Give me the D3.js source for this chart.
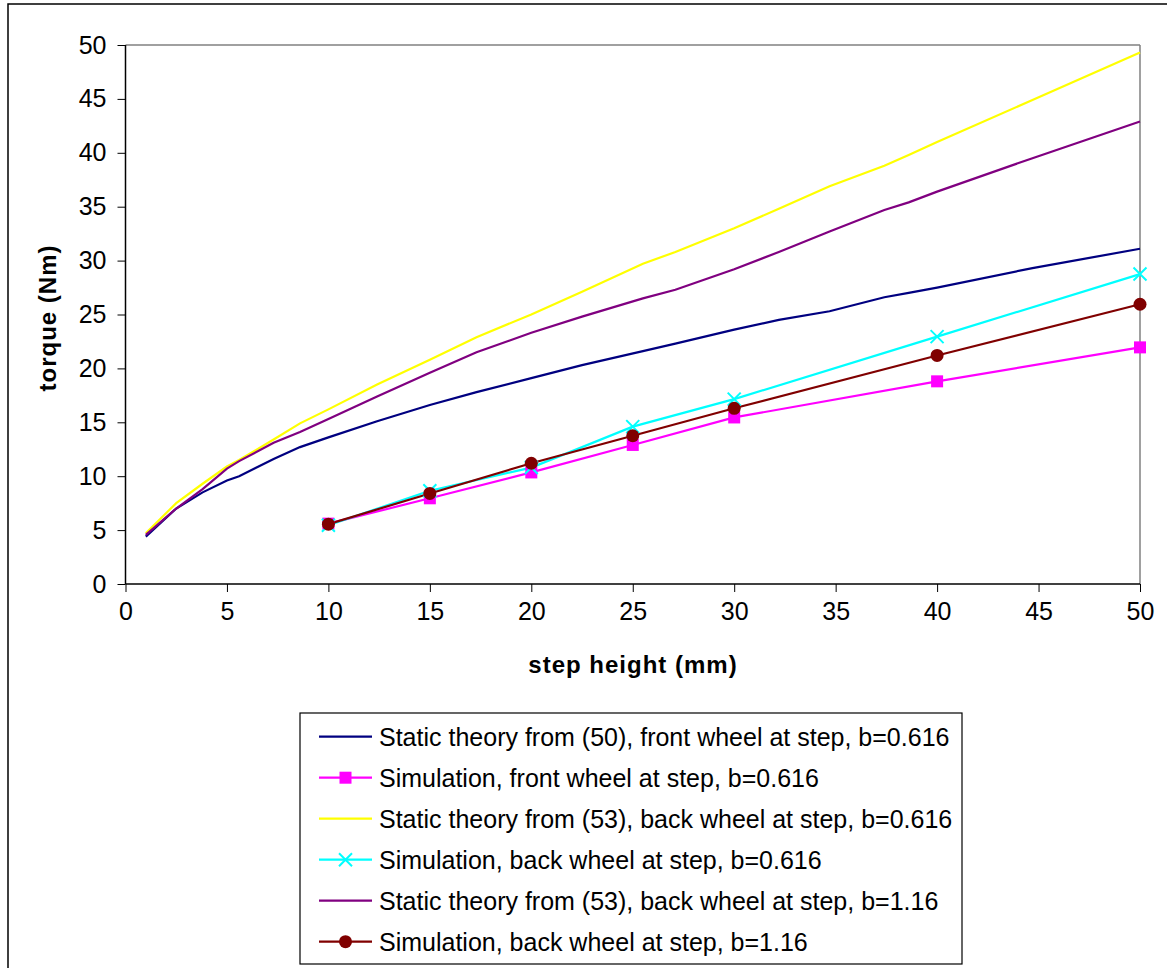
<!DOCTYPE html>
<html><head><meta charset="utf-8">
<script src="https://cdn.jsdelivr.net/npm/d3@7"></script>
<style>body{margin:0;background:#fff}svg{display:block}text{font-family:"Liberation Sans",Arial,sans-serif}</style>
</head><body>
<script>
// ---- data ----
const theoryX = [1, 2.5, 3.8, 5, 5.6, 7.3, 8.6, 10, 12.4, 15, 17.3, 20, 22.5, 25.5, 27.1, 30, 32.2, 34.7, 37.4, 38.6, 40, 44.7, 50];
const staticFront = [4.4, 7.0, 8.5, 9.6, 10.0, 11.6, 12.7, 13.6, 15.1, 16.6, 17.8, 19.1, 20.3, 21.6, 22.3, 23.6, 24.5, 25.3, 26.6, 27.0, 27.5, 29.3, 31.1];
const staticBack616 = [4.7, 7.5, 9.3, 10.9, 11.5, 13.4, 14.9, 16.2, 18.5, 20.8, 22.9, 25.0, 27.1, 29.7, 30.8, 33.0, 34.8, 36.9, 38.8, 39.8, 41.0, 44.9, 49.3];
const staticBack116 = [4.55, 7.0, 8.8, 10.7, 11.4, 13.1, 14.1, 15.3, 17.4, 19.6, 21.5, 23.3, 24.8, 26.5, 27.3, 29.2, 30.8, 32.7, 34.7, 35.4, 36.4, 39.5, 42.9];
const simX = [10, 15, 20, 25, 30, 40, 50];
const simFront616 = [5.6, 7.95, 10.35, 12.9, 15.45, 18.8, 21.95];
const simBack616 = [5.45, 8.65, 10.8, 14.6, 17.15, 22.95, 28.75];
const simBack116 = [5.55, 8.4, 11.2, 13.75, 16.3, 21.2, 25.95];
const xTicks = [0, 5, 10, 15, 20, 25, 30, 35, 40, 45, 50];
const yTicks = [0, 5, 10, 15, 20, 25, 30, 35, 40, 45, 50];
const seriesNames = [
  "Static theory from (50), front wheel at step, b=0.616",
  "Simulation, front wheel at step, b=0.616",
  "Static theory from (53), back wheel at step, b=0.616",
  "Simulation, back wheel at step, b=0.616",
  "Static theory from (53), back wheel at step, b=1.16",
  "Simulation, back wheel at step, b=1.16"
];

const series = [
  {name: seriesNames[0], xs: theoryX, ys: staticFront, color: "#000080", marker: null},
  {name: seriesNames[1], xs: simX, ys: simFront616, color: "#FF00FF", marker: "square"},
  {name: seriesNames[2], xs: theoryX, ys: staticBack616, color: "#FFFF00", marker: null},
  {name: seriesNames[3], xs: simX, ys: simBack616, color: "#00FFFF", marker: "x"},
  {name: seriesNames[4], xs: theoryX, ys: staticBack116, color: "#800080", marker: null},
  {name: seriesNames[5], xs: simX, ys: simBack116, color: "#800000", marker: "circle"}
];

const W = 1167, H = 968;
const L = 125.5, R = 1140, T = 45, B = 584;
const svg = d3.select("body").append("svg").attr("width", W).attr("height", H);

// outer frame (left + top visible)
svg.append("rect").attr("x", 8).attr("y", 4).attr("width", W + 20).attr("height", H + 20)
  .attr("fill", "none").attr("stroke", "#000").attr("stroke-width", 1.5);

const x = d3.scaleLinear().domain([0, 50]).range([L, R]);
const y = d3.scaleLinear().domain([0, 50]).range([B, T]);

// plot frame top + right gray
svg.append("line").attr("x1", L).attr("x2", R).attr("y1", T).attr("y2", T).attr("stroke", "#808080").attr("stroke-width", 1.5);
svg.append("line").attr("x1", R).attr("x2", R).attr("y1", T).attr("y2", B).attr("stroke", "#808080").attr("stroke-width", 1.5);

// axes
const xAxis = svg.append("g").attr("transform", `translate(0,${B})`)
  .call(d3.axisBottom(x).tickValues(xTicks).tickSize(8).tickPadding(10).tickFormat(d3.format("d")));
const yAxis = svg.append("g").attr("transform", `translate(${L},0)`)
  .call(d3.axisLeft(y).tickValues(yTicks).tickSize(8).tickPadding(11).tickFormat(d3.format("d")));
[xAxis, yAxis].forEach(g => {
  g.select(".domain").attr("stroke", "#000").attr("stroke-width", 1.5);
  g.selectAll(".tick line").attr("stroke", "#000").attr("stroke-width", 1);
  g.selectAll(".tick text").attr("font-size", 25).attr("fill", "#000")
    .attr("font-family", '"Liberation Sans",Arial,sans-serif');
});
xAxis.select(".domain").attr("d", `M${L},0H${R}`);
yAxis.select(".domain").attr("d", `M0,${B}V${T}`);

// axis titles
svg.append("text").attr("x", 633).attr("y", 673).attr("text-anchor", "middle")
  .attr("font-size", 24).attr("font-weight", "bold").attr("letter-spacing", 1).text("step height (mm)");
svg.append("text").attr("transform", `translate(56,318) rotate(-90)`).attr("text-anchor", "middle")
  .attr("font-size", 24).attr("font-weight", "bold").attr("letter-spacing", 1).text("torque (Nm)");

const line = d3.line().x(d => x(d[0])).y(d => y(d[1]));

function drawMarker(g, type, cx, cy, color) {
  if (type === "square") {
    g.append("rect").attr("x", cx - 6).attr("y", cy - 6).attr("width", 12).attr("height", 12).attr("fill", color);
  } else if (type === "circle") {
    g.append("circle").attr("cx", cx).attr("cy", cy).attr("r", 6.5).attr("fill", color);
  } else if (type === "x") {
    g.append("path").attr("d", `M${cx-6.5},${cy-6.5}L${cx+6.5},${cy+6.5}M${cx-6.5},${cy+6.5}L${cx+6.5},${cy-6.5}`)
      .attr("stroke", color).attr("stroke-width", 2).attr("fill", "none");
  }
}

const plot = svg.append("g");
series.forEach(s => {
  const pts = s.xs.map((v, i) => [v, s.ys[i]]);
  plot.append("path").attr("d", line(pts)).attr("fill", "none").attr("stroke", s.color).attr("stroke-width", 2.2);
});
series.forEach(s => {
  if (!s.marker) return;
  const g = plot.append("g");
  s.xs.forEach((v, i) => drawMarker(g, s.marker, x(v), y(s.ys[i]), s.color));
});

// legend
const lg = svg.append("g");
lg.append("rect").attr("x", 300).attr("y", 713).attr("width", 662).attr("height", 251)
  .attr("fill", "#fff").attr("stroke", "#000").attr("stroke-width", 1.2);
const rowY = d3.scaleLinear().domain([0, 5]).range([736.7, 941.7]);
series.forEach((s, i) => {
  const cy = rowY(i);
  lg.append("line").attr("x1", 319).attr("x2", 372).attr("y1", cy).attr("y2", cy).attr("stroke", s.color).attr("stroke-width", 2.2);
  if (s.marker) drawMarker(lg, s.marker, 345.5, cy, s.color);
  lg.append("text").attr("x", 379).attr("y", cy + 9).attr("font-size", 25).attr("fill", "#000").text(s.name);
});
</script>
</body></html>
